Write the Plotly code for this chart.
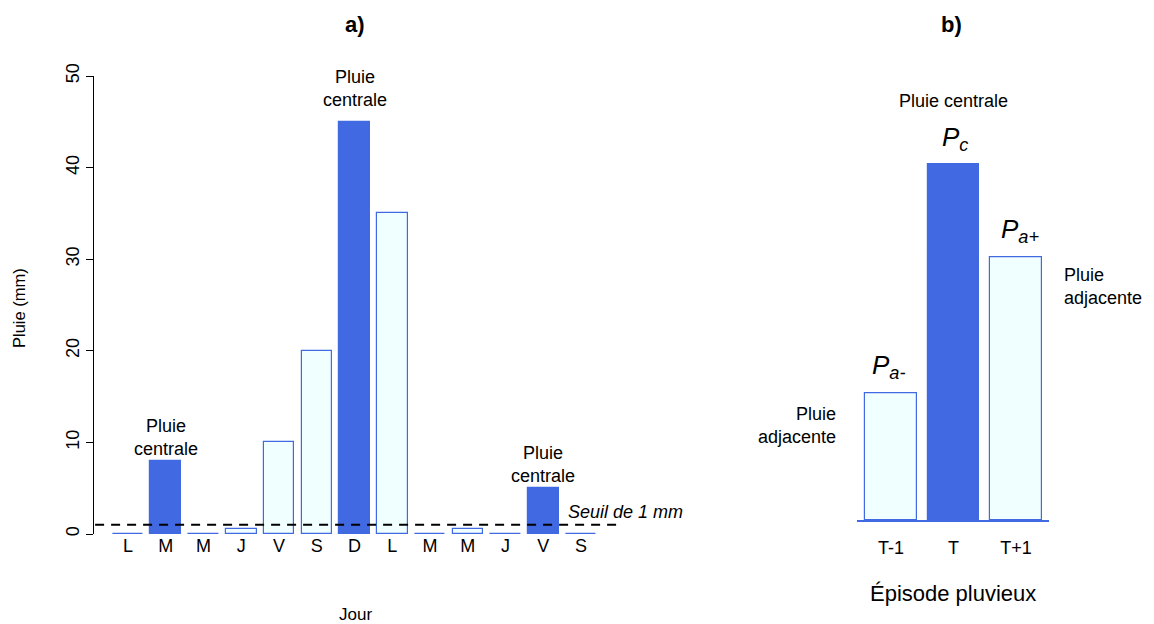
import plotly.graph_objects as go

# ---------------- data ----------------
days = ["L", "M", "M", "J", "V", "S", "D", "L", "M", "M", "J", "V", "S"]
rain_mm = [0, 8, 0, 0.5, 10, 20, 45, 35, 0, 0.5, 0, 5, 0]
is_central = [False, True, False, False, False, False, True, False, False, False, False, True, False]
threshold_mm = 1

episode = ["T-1", "T", "T+1"]
episode_rain = [15, 42, 31]
episode_central = [False, True, False]

y_ticks = [0, 10, 20, 30, 40, 50]

# ---------------- style ----------------
W, H = 1154, 624
BLUE = "#4169E1"
AZURE = "#F0FFFF"
FONT = "Liberation Sans"


def px(x):
    return x / W


def py(y):
    return 1 - y / H


fill_a = [BLUE if c else AZURE for c in is_central]
fill_b = [BLUE if c else AZURE for c in episode_central]

fig = go.Figure()

fig.add_trace(go.Bar(
    x=list(range(len(days))), y=rain_mm, width=0.81,
    marker=dict(color=fill_a, line=dict(color=BLUE, width=1.2)),
    xaxis="x", yaxis="y", showlegend=False, cliponaxis=False,
    hoverinfo="skip",
))

fig.add_trace(go.Bar(
    x=list(range(len(episode))), y=episode_rain, width=0.83,
    marker=dict(color=fill_b, line=dict(color=BLUE, width=1.2)),
    xaxis="x2", yaxis="y2", showlegend=False, cliponaxis=False,
    hoverinfo="skip",
))

# threshold line
fig.add_shape(type="line", xref="x domain", yref="y", x0=0.004, x1=1,
              y0=threshold_mm, y1=threshold_mm,
              line=dict(color="black", width=2, dash="9px,7px"))

ann = []


def add(text, x, y, size=18, xanchor="center", yanchor="middle", align="center"):
    ann.append(dict(text=text, x=px(x), y=py(y), xref="paper", yref="paper",
                    showarrow=False, xanchor=xanchor, yanchor=yanchor, align=align,
                    font=dict(size=size, color="black", family=FONT)))


# titles
add("<b>a)</b>", 355, 25, size=22)
add("<b>b)</b>", 951, 25, size=22)

# panel a labels
add("Pluie<br>centrale", 166, 437)
add("Pluie<br>centrale", 355, 89)
add("Pluie<br>centrale", 543, 464)
add("<i>Seuil de 1 mm</i>", 566, 512, xanchor="left")
add("Jour", 355, 614, size=17)
ann.append(dict(text="Pluie (mm)", x=px(19), y=py(308), xref="paper", yref="paper",
                showarrow=False, textangle=-90, xanchor="center", yanchor="middle",
                font=dict(size=16.5, color="black", family=FONT)))

# panel b labels
add("Pluie centrale", 953, 101)
add("<i>P<sub>c</sub></i>", 955, 138, size=26)
add("<i>P<sub>a+</sub></i>", 1020, 230, size=26)
add("<i>P<sub>a-</sub></i>", 889, 366, size=26)
add("Pluie<br>adjacente", 838, 425, xanchor="right", align="right")
add("Pluie<br>adjacente", 1062, 287, xanchor="left", align="left")
add("Épisode pluvieux", 953, 593, size=22)

fig.update_layout(
    template="none",
    width=W, height=H, autosize=False,
    margin=dict(l=0, r=0, t=0, b=0, pad=0),
    paper_bgcolor="white", plot_bgcolor="white",
    font=dict(family=FONT, size=18, color="black"),
    annotations=ann,
    bargap=0,
    xaxis=dict(domain=[px(93), px(620)], range=[-0.927, 13.03],
               tickvals=list(range(len(days))), ticktext=days,
               showline=False, showgrid=False, zeroline=False,
               ticks="", ticklabelstandoff=-1,
               tickfont=dict(size=18), anchor="y", automargin=False),
    yaxis=dict(domain=[py(534), py(76)], range=[0, 50],
               tickvals=y_ticks, ticktext=[str(v) for v in y_ticks],
               showline=True, linecolor="black", linewidth=1,
               ticks="outside", ticklen=7, tickcolor="black", tickwidth=1,
               tickangle=-90, showgrid=False, zeroline=False,
               tickfont=dict(size=18), anchor="free", position=px(93),
               automargin=False),
    xaxis2=dict(domain=[px(857), px(1049)], range=[-0.544, 2.528],
                tickvals=list(range(len(episode))), ticktext=episode,
                showline=True, linecolor=BLUE, linewidth=1.5,
                showgrid=False, zeroline=False,
                ticks="outside", ticklen=11, tickcolor="rgba(0,0,0,0)",
                tickfont=dict(size=18), anchor="y2", automargin=False),
    yaxis2=dict(domain=[py(520), py(96.2)], range=[0, 50], visible=False,
                anchor="x2", automargin=False),
)

fig.write_html("out.html")
